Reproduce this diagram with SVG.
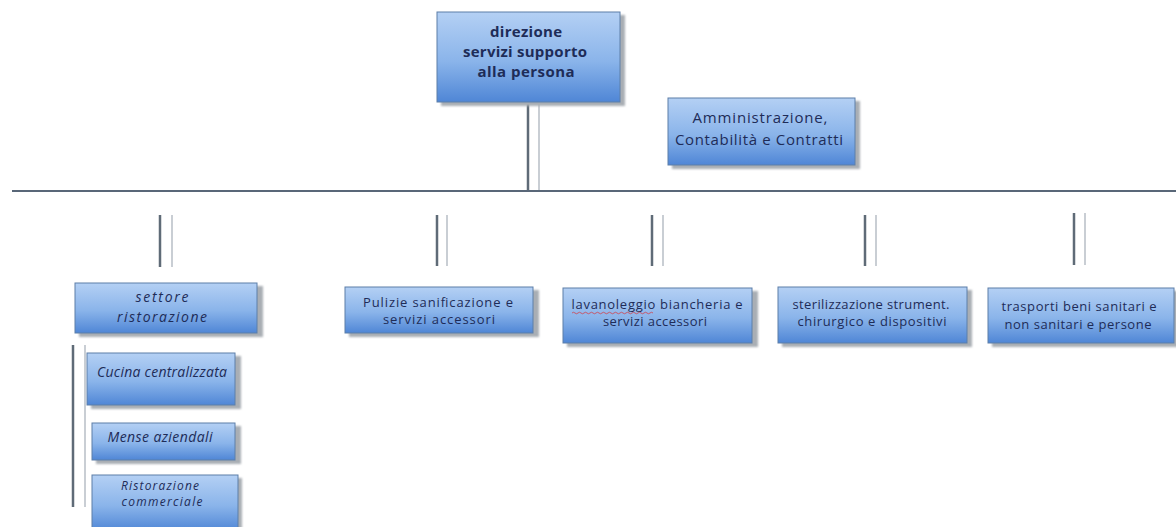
<svg xmlns="http://www.w3.org/2000/svg" width="1176" height="527" viewBox="0 0 1176 527">
  <defs>
    <linearGradient id="boxFill" x1="0" y1="0" x2="0" y2="1">
      <stop offset="0" stop-color="#b4d0f4"/>
      <stop offset="0.55" stop-color="#8ab4ea"/>
      <stop offset="1" stop-color="#4f86d6"/>
    </linearGradient>
    <filter id="soft" x="-10%" y="-10%" width="130%" height="130%">
      <feGaussianBlur stdDeviation="1.2"/>
    </filter>
  </defs>
  <style>
    .shadow { fill: #a9aeb4; filter: url(#soft); }
    .box { fill: url(#boxFill); stroke: #5d7ea8; stroke-width: 1; }
    .t { font-family: "Open Sans", Lato, "Liberation Sans", sans-serif; fill: #1e2c58; text-anchor: middle; }
    .big { font-size: 15px; font-weight: bold; }
    .mid { font-size: 15px; }
    .sm { font-size: 13px; }
    .it { font-size: 14px; font-style: italic; }
    .it12 { font-size: 12px; font-style: italic; }
    .main { stroke: #596778; stroke-width: 2; fill: none; }
    .dark { stroke: #5f6b77; stroke-width: 2.5; fill: none; }
    .light { stroke: #c9ced4; stroke-width: 2; fill: none; }
  </style>

  <rect width="1176" height="527" fill="#ffffff"/>

  <!-- connectors -->
  <g id="connectors">
    <line class="main" x1="12" y1="191" x2="1176" y2="191"/>
    <line class="dark" x1="528" y1="102" x2="528" y2="190"/>
    <line class="light" x1="539" y1="102" x2="539" y2="190"/>
    <line class="dark" x1="160" y1="215" x2="160" y2="267"/>
    <line class="light" x1="172" y1="215" x2="172" y2="267"/>
    <line class="dark" x1="437" y1="215" x2="437" y2="266"/>
    <line class="light" x1="447" y1="215" x2="447" y2="266"/>
    <line class="dark" x1="652" y1="215" x2="652" y2="266"/>
    <line class="light" x1="663" y1="215" x2="663" y2="266"/>
    <line class="dark" x1="865" y1="215" x2="865" y2="266"/>
    <line class="light" x1="876" y1="215" x2="876" y2="266"/>
    <line class="dark" x1="1074" y1="213" x2="1074" y2="265"/>
    <line class="light" x1="1085" y1="213" x2="1085" y2="265"/>
    <line class="dark" x1="73" y1="345" x2="73" y2="507"/>
    <line class="light" x1="85" y1="345" x2="85" y2="507"/>
  </g>

  <g id="direzione">
    <rect class="shadow" x="441" y="15" width="184" height="91"/>
    <rect class="box" x="437" y="12" width="183" height="90"/>
    <text class="t big" x="526" y="37" textLength="72">direzione</text>
    <text class="t big" x="525" y="57" textLength="124">servizi supporto</text>
    <text class="t big" x="526" y="77" textLength="97">alla persona</text>
  </g>

  <g id="amministrazione">
    <rect class="shadow" x="672" y="101" width="188" height="68"/>
    <rect class="box" x="668" y="98" width="187" height="67"/>
    <text class="t mid" x="760" y="123" textLength="135">Amministrazione,</text>
    <text class="t mid" x="759" y="145" textLength="168">Contabilità e Contratti</text>
  </g>

  <g id="settore-ristorazione">
    <rect class="shadow" x="79" y="286" width="184" height="51"/>
    <rect class="box" x="75" y="283" width="182" height="50"/>
    <text class="t it" x="162" y="302" textLength="53">settore</text>
    <text class="t it" x="162" y="322" textLength="90">ristorazione</text>
  </g>

  <g id="pulizie">
    <rect class="shadow" x="349" y="290" width="190" height="47"/>
    <rect class="box" x="345" y="287" width="188" height="46"/>
    <text class="t sm" x="438" y="307" textLength="150">Pulizie  sanificazione e</text>
    <text class="t sm" x="439" y="324" textLength="112">servizi accessori</text>
  </g>

  <g id="lavanoleggio">
    <rect class="shadow" x="567" y="291" width="191" height="56"/>
    <rect class="box" x="563" y="288" width="189" height="55"/>
    <text class="t sm" x="657" y="309" textLength="171">lavanoleggio biancheria e</text>
    <text class="t sm" x="655" y="326" textLength="104">servizi accessori</text>
    <path d="M572 313 q1.5 -1.5 3 0 t3 0 t3 0 t3 0 t3 0 t3 0 t3 0 t3 0 t3 0 t3 0 t3 0 t3 0 t3 0 t3 0 t3 0 t3 0 t3 0 t3 0 t3 0 t3 0 t3 0 t3 0 t3 0 t3 0 t3 0 t3 0 t3 0" fill="none" stroke="#d0404a" stroke-width="0.8"/>
  </g>

  <g id="sterilizzazione">
    <rect class="shadow" x="782" y="290" width="190" height="57"/>
    <rect class="box" x="778" y="287" width="189" height="56"/>
    <text class="t sm" x="871" y="309" textLength="157">sterilizzazione strument.</text>
    <text class="t sm" x="872" y="326" textLength="149">chirurgico e dispositivi</text>
  </g>

  <g id="trasporti">
    <rect class="shadow" x="992" y="291" width="186" height="56"/>
    <rect class="box" x="988" y="288" width="186" height="55"/>
    <text class="t sm" x="1079" y="311" textLength="155">trasporti beni sanitari e</text>
    <text class="t sm" x="1078" y="329" textLength="147">non sanitari e persone</text>
  </g>

  <g id="cucina-centralizzata">
    <rect class="shadow" x="91" y="356" width="150" height="53"/>
    <rect class="box" x="87" y="353" width="148" height="52"/>
    <text class="t it" x="162" y="377" textLength="130">Cucina centralizzata</text>
  </g>

  <g id="mense-aziendali">
    <rect class="shadow" x="96" y="426" width="145" height="38"/>
    <rect class="box" x="92" y="423" width="143" height="37"/>
    <text class="t it" x="160" y="442" textLength="105">Mense aziendali</text>
  </g>

  <g id="ristorazione-commerciale">
    <rect class="shadow" x="96" y="478" width="146" height="54"/>
    <rect class="box" x="92" y="475" width="146" height="56"/>
    <text class="t it12" x="160" y="490" textLength="78">Ristorazione</text>
    <text class="t it12" x="162" y="506" textLength="81">commerciale</text>
  </g>
</svg>
